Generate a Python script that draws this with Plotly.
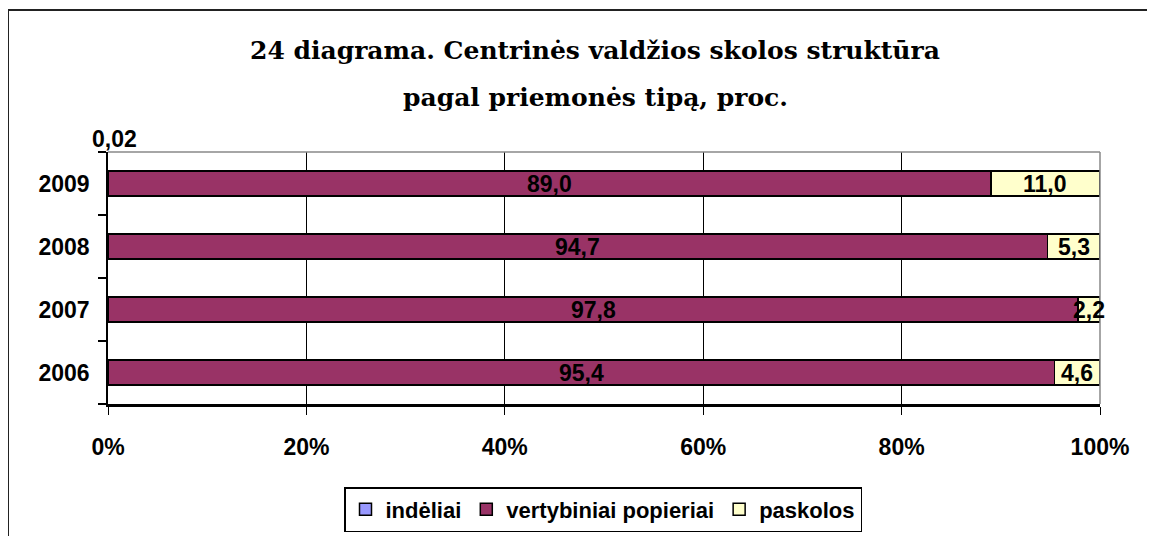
import plotly.graph_objects as go

years = ["2006", "2007", "2008", "2009"]
indeliai = [0.0, 0.0, 0.0, 0.02]
vertybiniai = [95.4, 97.8, 94.7, 89.0]
paskolos = [4.6, 2.2, 5.3, 11.0]
series_names = ["indėliai", "vertybiniai popieriai", "paskolos"]
x_ticks = [0, 20, 40, 60, 80, 100]
x_tick_labels = ["0%", "20%", "40%", "60%", "80%", "100%"]
title_lines = ["24 diagrama. Centrinės valdžios skolos struktūra",
               "pagal priemonės tipą, proc."]
indeliai_label = "0,02"

colors = ["#9999FF", "#993366", "#FFFFCC"]

W, H = 1155, 536
OFF = 8  # page body margin shifts the figure by 8 px
L, R, T, B = 108 - OFF, 55 + OFF, 152 - OFF, 132 + OFF
pw, ph = W - L - R, H - T - B

def px_x(px):
    return (px - OFF - L) / pw

def px_y(py):
    return (H - B - (py - OFF)) / ph

SANS = "Arial, Liberation Sans"
fig = go.Figure()
for name, vals, col in zip(series_names, [indeliai, vertybiniai, paskolos], colors):
    fig.add_trace(go.Bar(
        y=years, x=vals, name=name, orientation="h",
        marker=dict(color=col, line=dict(color="black", width=1.5)),
        hoverinfo="skip",
    ))

annotations = []
for i, y in enumerate(years):
    total = indeliai[i] + vertybiniai[i] + paskolos[i]
    start = indeliai[i]
    for vals in (vertybiniai, paskolos):
        v = vals[i]
        mid = (start + v / 2) / total * 100
        annotations.append(dict(
            x=mid, y=i, xref="x", yref="y", showarrow=False,
            xanchor="center", yanchor="middle",
            text=f"{v:.1f}".replace(".", ","),
            font=dict(family=SANS, size=23, color="black", weight="bold"),
        ))
        start += v

annotations.append(dict(
    x=px_x(114), y=px_y(139), xref="paper", yref="paper", showarrow=False,
    xanchor="center", yanchor="middle",
    text=indeliai_label,
    font=dict(family=SANS, size=23, color="black", weight="bold"),
))
for line, py in zip(title_lines, [50, 97]):
    annotations.append(dict(
        x=px_x(595), y=px_y(py), xref="paper", yref="paper", showarrow=False,
        xanchor="center", yanchor="middle",
        text=line,
        font=dict(family="DejaVu Serif, serif", size=25, color="black", weight="bold"),
    ))

shapes = [
    dict(type="line", xref="paper", yref="paper", x0=px_x(8), x1=px_x(1170), y0=px_y(10), y1=px_y(10),
         line=dict(color="#222", width=2)),
    dict(type="line", xref="paper", yref="paper", x0=px_x(8), x1=px_x(8), y0=px_y(10), y1=px_y(560),
         line=dict(color="#222", width=2)),
    dict(type="line", xref="paper", yref="paper", x0=0, x1=1, y0=1, y1=1,
         line=dict(color="#888888", width=1.5)),
    dict(type="line", xref="paper", yref="paper", x0=1, x1=1, y0=0, y1=1,
         line=dict(color="#888888", width=1.5)),
]

fig.update_layout(
    barmode="stack",
    barnorm="percent",
    bargap=0.6,
    width=W, height=H,
    margin=dict(l=L, r=R, t=T, b=B, autoexpand=False),
    paper_bgcolor="white", plot_bgcolor="white",
    showlegend=True,
    legend=dict(
        orientation="h", x=px_x(603), y=px_y(487), xanchor="center", yanchor="top",
        bordercolor="black", borderwidth=1.5, bgcolor="white",
        font=dict(family=SANS, size=22, color="black", weight="bold"),
        traceorder="normal", itemwidth=30,
    ),
    annotations=annotations,
    shapes=shapes,
    xaxis=dict(
        range=[0, 100], tickvals=x_ticks, ticktext=x_tick_labels,
        showgrid=True, gridcolor="black", gridwidth=1,
        showline=True, linecolor="black", linewidth=2.5,
        ticks="outside", ticklen=8, tickcolor="black", tickwidth=1,
        ticklabelstandoff=13,
        tickfont=dict(family=SANS, size=23, color="black", weight="bold"),
        zeroline=False, fixedrange=True,
    ),
    yaxis=dict(
        type="category", categoryorder="array", categoryarray=years,
        range=[-0.5, 3.5],
        showline=True, linecolor="black", linewidth=1.5,
        ticks="outside", ticklen=8, tickcolor="black", tickwidth=1.5,
        tickson="boundaries", ticklabelstandoff=12,
        tickfont=dict(family=SANS, size=23, color="black", weight="bold"),
        showgrid=False, zeroline=False, fixedrange=True,
    ),
)

fig.write_html("out.html")
